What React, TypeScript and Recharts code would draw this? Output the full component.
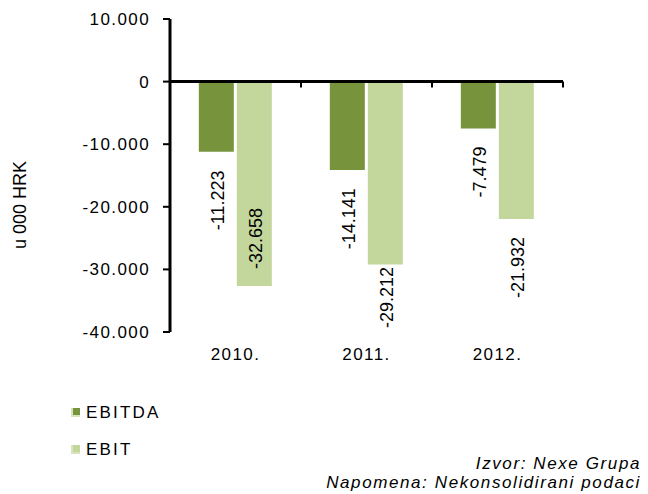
import { BarChart, Bar, XAxis, YAxis, ReferenceLine, LabelList, Legend } from "recharts";

const years = ["2010.", "2011.", "2012."];
const ebitda = [-11223, -14141, -7479];
const ebit = [-32658, -29212, -21932];
const yTicks = [10000, 0, -10000, -20000, -30000, -40000];
const seriesOrder = ["EBITDA", "EBIT"];

const data = years.map((year, i) => ({ year, ebitda: ebitda[i], ebit: ebit[i] }));

const FONT = "'Liberation Sans', Arial, sans-serif";
const DARK = "#77933C";
const LIGHT = "#C3D69B";
const LABEL_FONT = 18;
const PLOT_TOP = 19;
const PLOT_BOTTOM = 332;

const fmt = (v: number) =>
  (v < 0 ? "-" : "") + Math.abs(v).toString().replace(/\B(?=(\d{3})+(?!\d))/g, ".");

const textLen = (s: string) =>
  s.split("").reduce((w, c) => w + (c === "-" ? 0.333 : c === "." ? 0.278 : 0.556), 0) * LABEL_FONT;

// rotated value label, below the bar end; moved inside when it would not fit
const BarValueLabel = (p: any) => {
  const { x, y, width, height, value } = p;
  const text = fmt(Number(value));
  const len = textLen(text);
  const end = Math.max(Number(y), Number(y) + Number(height));
  let top = Math.min(end + 18, PLOT_BOTTOM - 4 - len);
  if (top < end) top = end - 17 - len;
  const cx = Number(x) + Number(width) / 2 + 2;
  const cy = top + len / 2;
  return (
    <text
      x={cx}
      y={cy}
      transform={`rotate(-90 ${cx} ${cy})`}
      textAnchor="middle"
      dominantBaseline="central"
      fontSize={LABEL_FONT}
      fontFamily={FONT}
      fill="#000"
    >
      {text}
    </text>
  );
};

// zero line with small category ticks hanging below it
const ZeroLine = (p: any) => {
  const { x1, y1, x2, y2 } = p;
  const step = (x2 - x1) / years.length;
  return (
    <g>
      <line x1={x1} y1={y1} x2={x2} y2={y2} stroke="#000" strokeWidth={3} />
      {years.map((_, i) => (
        <line key={i} x1={x1 + step * (i + 1)} x2={x1 + step * (i + 1)} y1={y1} y2={y1 + 6} stroke="#000" strokeWidth={2} />
      ))}
    </g>
  );
};

const LegendBox = (p: any) => {
  const items = [...(p.payload || [])].sort(
    (a: any, b: any) => seriesOrder.indexOf(a.value) - seriesOrder.indexOf(b.value)
  );
  return (
    <div style={{ fontFamily: FONT, fontSize: 17, letterSpacing: 2.2, color: "#000" }}>
      {items.map((item: any) => (
        <div key={item.value} style={{ display: "flex", alignItems: "center", height: 37 }}>
          <span
            style={{
              display: "inline-block",
              width: 7,
              height: 7,
              background: item.color,
              borderBottom: "2px solid #d7e4bd",
              borderLeft: "2px solid #d7e4bd",
              marginRight: 6,
            }}
          />
          {item.value}
        </div>
      ))}
    </div>
  );
};

export default function App() {
  return (
    <div style={{ position: "absolute", left: 0, top: 0, width: 648, height: 494, background: "#fff" }}>
      <BarChart
        width={648}
        height={494}
        data={data}
        margin={{ top: PLOT_TOP, right: 85, bottom: 132, left: 0 }}
        barCategoryGap="22%"
        barGap={3}
      >
        <XAxis
          dataKey="year"
          axisLine={false}
          tickLine={false}
          height={30}
          tickMargin={10}
          tick={{ fill: "#000", fontSize: 17, fontFamily: FONT, letterSpacing: 1.4 }}
        />
        <YAxis
          width={170}
          domain={[-40000, 10000]}
          ticks={yTicks}
          interval={0}
          tickFormatter={fmt}
          axisLine={{ stroke: "#000", strokeWidth: 3 }}
          tickLine={{ stroke: "#000", strokeWidth: 2 }}
          tickSize={7}
          tickMargin={13}
          tick={{ fill: "#000", fontSize: 17, fontFamily: FONT, letterSpacing: 1.4 }}
        />
        <Bar dataKey="ebitda" name="EBITDA" fill={DARK} isAnimationActive={false}>
          <LabelList dataKey="ebitda" content={BarValueLabel} />
        </Bar>
        <Bar dataKey="ebit" name="EBIT" fill={LIGHT} isAnimationActive={false}>
          <LabelList dataKey="ebit" content={BarValueLabel} />
        </Bar>
        <ReferenceLine y={0} shape={ZeroLine} />
        <Legend
          layout="vertical"
          align="center"
          verticalAlign="middle"
          content={LegendBox}
          wrapperStyle={{ position: "absolute", left: 71, top: 394, width: 200, height: 80 }}
        />
      </BarChart>
      <div
        style={{
          position: "absolute",
          left: 20,
          top: 205,
          transform: "translate(-50%, -50%) rotate(-90deg)",
          whiteSpace: "nowrap",
          fontFamily: FONT,
          fontSize: 18,
        }}
      >
        u 000 HRK
      </div>
      <div
        style={{
          position: "absolute",
          right: 7,
          top: 454,
          textAlign: "right",
          fontFamily: FONT,
          fontStyle: "italic",
          fontSize: 17,
          letterSpacing: 1.6,
          lineHeight: "19px",
          whiteSpace: "nowrap",
        }}
      >
        <div>Izvor: Nexe Grupa</div>
        <div>Napomena: Nekonsolidirani podaci</div>
      </div>
    </div>
  );
}
